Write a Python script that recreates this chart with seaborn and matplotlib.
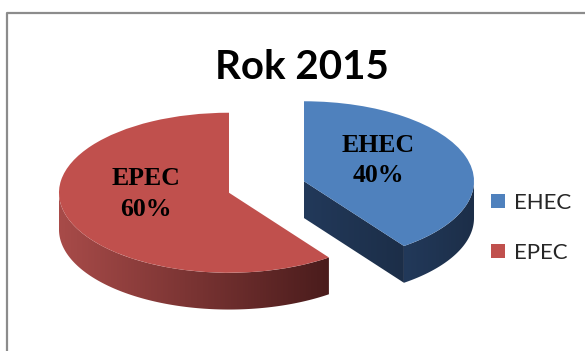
import numpy as np
import matplotlib
matplotlib.use('Agg')
import matplotlib.pyplot as plt
import seaborn as sns
from matplotlib.patches import Polygon
from matplotlib.lines import Line2D
from matplotlib.colors import LinearSegmentedColormap

# ---- data ----
categories = ['EHEC', 'EPEC']
shares = [40, 60]
top_colors = ['#4F81BD', '#C0504D']
side_colors = [('#22395A', '#1C2E48'), ('#A84B49', '#4A1C1C')]
title = 'Rok 2015'

sns.set_theme(style='white')
plt.rcParams['font.family'] = ['Lato', 'DejaVu Sans']

W, H = 585, 351
fig = plt.figure(figsize=(W / 100, H / 100), dpi=100)
ax = fig.add_axes([0, 0, 1, 1])

RX, RY = 170.0, 80.0      # pixels per unit (tilted pie)
CX0, CY0 = 266.5, 187.0   # pie centre in pixels
DEPTH = 0.46              # thickness in y-units

wedges, _ = ax.pie(shares, colors=top_colors, startangle=90, counterclock=False,
                   explode=[0.232, 0.232], radius=1, center=(0, 0),
                   wedgeprops=dict(linewidth=0, zorder=3))

for w, (c1, c2) in zip(wedges, side_colors):
    cx, cy = w.center
    r = w.r
    t1, t2 = w.theta1, w.theta2
    polys = []
    ts = np.radians(np.linspace(t1, t2, 600))
    vis = np.sin(ts) <= 1e-9
    if vis.any():
        tv = ts[vis]
        xs = cx + r * np.cos(tv)
        ys = cy + r * np.sin(tv)
        polys.append(np.column_stack([np.r_[xs, xs[::-1]], np.r_[ys, ys[::-1] - DEPTH]]))
    for edge, normal in ((t1, t1 - 90), (t2, t2 + 90)):
        if np.sin(np.radians(normal)) < -1e-6:
            ex = cx + r * np.cos(np.radians(edge))
            ey = cy + r * np.sin(np.radians(edge))
            polys.append(np.array([[cx, cy], [ex, ey], [ex, ey - DEPTH], [cx, cy - DEPTH]]))
    cmap = LinearSegmentedColormap.from_list('side', [c1, c2])
    for p in polys:
        patch = Polygon(p, closed=True, facecolor='none', edgecolor='none', zorder=2)
        ax.add_patch(patch)
        xmin, xmax = p[:, 0].min(), p[:, 0].max()
        ymin, ymax = p[:, 1].min(), p[:, 1].max()
        grad = np.linspace(0, 1, 256).reshape(1, -1)
        im = ax.imshow(grad, cmap=cmap, extent=[xmin, xmax, ymin, ymax],
                       aspect='auto', zorder=2, interpolation='bilinear')
        im.set_clip_path(patch)

ax.set_aspect('auto')
ax.set_xlim(-CX0 / RX, (W - CX0) / RX)
ax.set_ylim(-(H - CY0) / RY, CY0 / RY)
ax.axis('off')

# data labels
label_pos = {'EHEC': (378, 152, 182), 'EPEC': (146, 185, 216)}
for cat, val in zip(categories, shares):
    x, b1, b2 = label_pos[cat]
    fig.text(x / W, 1 - b1 / H, cat, ha='center', va='baseline', fontsize=18.5,
             fontweight='bold', family=['Liberation Serif'], color='black', zorder=5)
    fig.text(x / W, 1 - b2 / H, f'{val}%', ha='center', va='baseline', fontsize=18.5,
             fontweight='bold', family=['Liberation Serif'], color='black', zorder=5)

# title
fig.text(302 / W, 1 - 79 / H, title, ha='center', va='baseline', fontsize=29,
         fontweight='bold', color='black')

# legend
leg = ax.legend(wedges, categories, loc='upper left',
                bbox_to_anchor=(491 / W, 1 - 193 / H), bbox_transform=fig.transFigure,
                frameon=False, fontsize=16, handlelength=0.62, handleheight=0.62,
                handletextpad=0.4, labelspacing=1.35, borderpad=0, borderaxespad=0)

# outer chart frame
fig.add_artist(Line2D([7 / W, 7 / W, 1.05], [-0.05, 1 - 13 / H, 1 - 13 / H],
                      transform=fig.transFigure, color='#8C8C8C', linewidth=1.6))

fig.savefig('out.png', dpi=100)
